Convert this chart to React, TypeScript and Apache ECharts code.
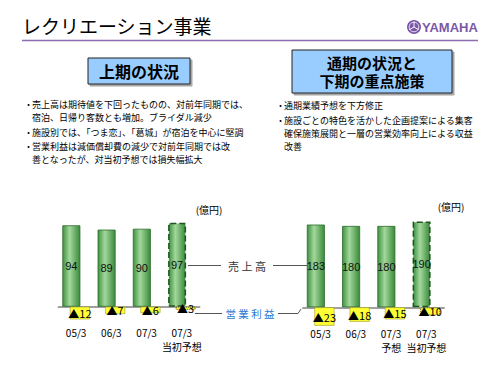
import React, { useEffect, useRef } from "react";
import * as echarts from "echarts";

const leftCategories = ["05/3", "06/3", "07/3", "07/3\n当初予想"];
const leftSales = [94, 89, 90, 97];
const leftProfit = [-12, -7, -6, -3];

const rightCategories = ["05/3", "06/3", "07/3\n予想", "07/3\n当初予想"];
const rightSales = [183, 180, 180, 190];
const rightProfit = [-23, -18, -15, -10];

const title = "レクリエーション事業";
const leftHeading = "上期の状況";
const rightHeadingLines = ["通期の状況と", "下期の重点施策"];
const leftBullets = [
  ["売上高は期待値を下回ったものの、対前年同期では、", "宿泊、日帰り客数とも増加。ブライダル減少"],
  ["施設別では、「つま恋」、「葛城」が宿泊を中心に堅調"],
  ["営業利益は減価償却費の減少で対前年同期では改", "善となったが、対当初予想では損失幅拡大"],
];
const rightBullets = [
  ["通期業績予想を下方修正"],
  ["施設ごとの特色を活かした企画提案による集客", "確保施策展開と一層の営業効率向上による収益", "改善"],
];
const salesLegend = "売 上 高";
const profitLegend = "営 業 利 益";
const unitLabel = "(億円)";

const JP = "'Noto Sans CJK JP', 'Noto Sans', sans-serif";
const PURPLE = "#7b57a8";

const greenFill = {
  type: "linear",
  x: 0,
  y: 0,
  x2: 1,
  y2: 0,
  colorStops: [
    { offset: 0, color: "#3f923f" },
    { offset: 0.4, color: "#a3d89d" },
    { offset: 1, color: "#3a8a3a" },
  ],
};

function salesData(values: number[]) {
  return values.map((v, i) =>
    i === values.length - 1
      ? {
          value: v,
          itemStyle: {
            borderType: "dashed",
            borderColor: "#1d551d",
            borderWidth: 1.5,
          },
        }
      : v
  );
}

function profitData(values: number[]) {
  return values.map((v, i) =>
    i === values.length - 1
      ? {
          value: v,
          itemStyle: { borderType: "dotted", borderColor: "#555500", borderWidth: 1 },
        }
      : v
  );
}

function bulletGraphics(groups: string[][], bx: number, tx: number, ys: number[]) {
  const out: any[] = [];
  let k = 0;
  groups.forEach((g) => {
    g.forEach((line, j) => {
      const y = ys[k++];
      if (j === 0) {
        out.push({
          type: "text",
          x: bx,
          y,
          style: { text: "・", font: `9px ${JP}`, fill: "#000", textVerticalAlign: "middle" },
        });
      }
      out.push({
        type: "text",
        x: tx,
        y,
        style: { text: line, font: `9px ${JP}`, fill: "#000", textVerticalAlign: "middle" },
      });
    });
  });
  return out;
}

export default function App() {
  const ref = useRef<HTMLDivElement>(null);

  useEffect(() => {
    if (!ref.current) return;
    const chart = echarts.init(ref.current, undefined, { renderer: "svg" });

    const xAxisBase = {
      type: "category",
      position: "bottom",
      axisLine: { onZero: false, lineStyle: { color: "#a0a0a0", width: 2 } },
      axisTick: { show: false },
      axisLabel: {
        interval: 0,
        color: "#000",
        fontSize: 10,
        lineHeight: 14,
        margin: 19,
        fontFamily: JP,
      },
    };

    const salesLabel = {
      show: true,
      position: "inside",
      color: "#111",
      fontSize: 11,
      fontFamily: "'Liberation Sans', sans-serif",
    };
    const profitLabel = {
      show: true,
      position: "inside",
      color: "#000",
      fontSize: 11,
      fontFamily: JP,
      formatter: (p: any) => "▲" + Math.abs(p.value),
    };

    const graphics: any[] = [
      {
        type: "text",
        x: 22,
        y: 25,
        style: { text: title, font: `19px ${JP}`, fill: "#000", textVerticalAlign: "middle" },
      },
      {
        type: "line",
        shape: { x1: 22, y1: 40.5, x2: 478, y2: 40.5 },
        style: { stroke: "#8c6bb1", lineWidth: 1.5 },
      },
      { type: "circle", shape: { cx: 414, cy: 27, r: 7 }, style: { fill: PURPLE } },
      {
        type: "circle",
        shape: { cx: 414, cy: 27, r: 4.8 },
        style: { fill: "none", stroke: "#fff", lineWidth: 0.8 },
      },
      ...[90, 210, 330].map((a) => {
        const r = (a * Math.PI) / 180;
        return {
          type: "line",
          shape: { x1: 414, y1: 27, x2: 414 + 5.5 * Math.cos(r), y2: 27 - 5.5 * Math.sin(r) },
          style: { stroke: "#fff", lineWidth: 1 },
        };
      }),
      {
        type: "text",
        x: 422,
        y: 27,
        style: {
          text: "YAMAHA",
          font: "bold 13px 'Liberation Sans', sans-serif",
          fill: PURPLE,
          textVerticalAlign: "middle",
        },
      },
      {
        type: "rect",
        shape: { x: 88, y: 58, width: 102, height: 26 },
        style: {
          fill: "#99ccff",
          stroke: "#222",
          lineWidth: 1,
          shadowColor: "rgba(0,0,0,0.35)",
          shadowOffsetX: 2,
          shadowOffsetY: 2,
          shadowBlur: 1,
        },
      },
      {
        type: "text",
        x: 139,
        y: 71,
        style: {
          text: leftHeading,
          font: `bold 16px ${JP}`,
          fill: "#000",
          textAlign: "center",
          textVerticalAlign: "middle",
        },
      },
      {
        type: "rect",
        shape: { x: 292, y: 50, width: 160, height: 43 },
        style: {
          fill: "#99ccff",
          stroke: "#222",
          lineWidth: 1,
          shadowColor: "rgba(0,0,0,0.35)",
          shadowOffsetX: 2,
          shadowOffsetY: 2,
          shadowBlur: 1,
        },
      },
      ...rightHeadingLines.map((t, i) => ({
        type: "text",
        x: 372,
        y: 62 + i * 18.5,
        style: {
          text: t,
          font: `bold 15px ${JP}`,
          fill: "#000",
          textAlign: "center",
          textVerticalAlign: "middle",
        },
      })),
      ...bulletGraphics(leftBullets, 24, 32, [104.5, 117, 132, 146.5, 159]),
      ...bulletGraphics(rightBullets, 276, 284, [105.5, 120, 133, 146]),
      {
        type: "text",
        x: 209,
        y: 209,
        style: { text: unitLabel, font: `10px ${JP}`, fill: "#000", textAlign: "center", textVerticalAlign: "middle" },
      },
      {
        type: "text",
        x: 451,
        y: 206,
        style: { text: unitLabel, font: `10px ${JP}`, fill: "#000", textAlign: "center", textVerticalAlign: "middle" },
      },
      {
        type: "line",
        shape: { x1: 188, y1: 265.5, x2: 221, y2: 265.5 },
        style: { stroke: "#555", lineWidth: 1 },
      },
      {
        type: "line",
        shape: { x1: 273, y1: 265.5, x2: 307, y2: 265.5 },
        style: { stroke: "#555", lineWidth: 1 },
      },
      {
        type: "text",
        x: 247,
        y: 265.5,
        style: { text: salesLegend, font: `11px ${JP}`, fill: "#333", textAlign: "center", textVerticalAlign: "middle" },
      },
      {
        type: "line",
        shape: { x1: 195, y1: 313.5, x2: 222, y2: 313.5 },
        style: { stroke: "#555", lineWidth: 1 },
      },
      {
        type: "polyline",
        shape: { points: [[278, 313.5], [298, 313.5], [301, 309]] },
        style: { stroke: "#555", lineWidth: 1, fill: "none" },
      },
      {
        type: "text",
        x: 250,
        y: 313.5,
        style: { text: profitLegend, font: `10.5px ${JP}`, fill: "#2a76d6", textAlign: "center", textVerticalAlign: "middle" },
      },
    ];

    chart.setOption({
      animation: false,
      backgroundColor: "#fff",
      grid: [
        { left: 58.5, width: 141, top: 215, height: 120 },
        { left: 303, width: 141, top: 215, height: 120 },
      ],
      xAxis: [
        { ...xAxisBase, gridIndex: 0, offset: -28.3, data: leftCategories },
        { ...xAxisBase, gridIndex: 1, offset: -27.7, data: rightCategories },
      ],
      yAxis: [
        { type: "value", gridIndex: 0, min: -32.7, max: 105.9, show: false },
        { type: "value", gridIndex: 0, min: -26.95, max: 87.33, show: false },
        { type: "value", gridIndex: 1, min: -61.3, max: 204.2, show: false },
        { type: "value", gridIndex: 1, min: -34.6, max: 115.4, show: false },
      ],
      series: [
        {
          type: "bar",
          xAxisIndex: 0,
          yAxisIndex: 0,
          data: salesData(leftSales),
          barWidth: 18,
          barGap: "-58%",
          itemStyle: { color: greenFill, borderColor: "#2d6b2d", borderWidth: 0.8 },
          label: salesLabel,
        },
        {
          type: "bar",
          xAxisIndex: 0,
          yAxisIndex: 1,
          data: profitData(leftProfit),
          barWidth: 20,
          barGap: "-58%",
          itemStyle: { color: "#ffff33", borderColor: "#9a9a20", borderWidth: 0.6 },
          label: profitLabel,
        },
        {
          type: "bar",
          xAxisIndex: 1,
          yAxisIndex: 2,
          data: salesData(rightSales),
          barWidth: 18,
          barGap: "-58%",
          itemStyle: { color: greenFill, borderColor: "#2d6b2d", borderWidth: 0.8 },
          label: salesLabel,
        },
        {
          type: "bar",
          xAxisIndex: 1,
          yAxisIndex: 3,
          data: profitData(rightProfit),
          barWidth: 20,
          barGap: "-58%",
          itemStyle: { color: "#ffff33", borderColor: "#9a9a20", borderWidth: 0.6 },
          label: profitLabel,
        },
      ],
      graphic: graphics,
    });

    return () => chart.dispose();
  }, []);

  return (
    <div
      ref={ref}
      style={{ position: "absolute", left: 0, top: 0, width: 500, height: 375, background: "#fff" }}
    />
  );
}
